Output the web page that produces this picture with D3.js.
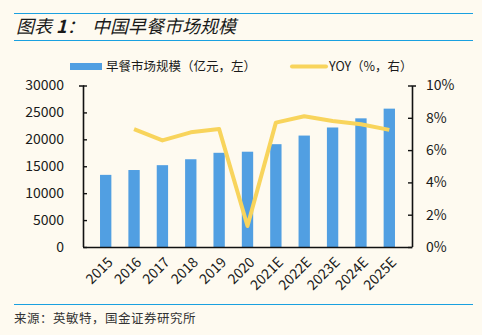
<!DOCTYPE html>
<html>
<head>
<meta charset="utf-8">
<script src="https://cdn.jsdelivr.net/npm/d3@7"></script>
<style>
  body { margin: 0; background: #fefaf0; }
  svg { display: block; }
  text { font-family: "Noto Sans CJK SC", "Noto Sans", sans-serif; fill: #1a1a1a; }
</style>
</head>
<body>
<div id="chart"></div>
<script>
// market size (100m yuan) and YoY growth (%)
const years = ["2015", "2016", "2017", "2018", "2019", "2020", "2021E", "2022E", "2023E", "2024E", "2025E"];
const marketSize = [13400, 14300, 15200, 16300, 17500, 17700, 19100, 20700, 22200, 23900, 25700];
const yoy = [null, 7.3, 6.6, 7.1, 7.3, 1.3, 7.7, 8.1, 7.8, 7.6, 7.25];
const leftTicks = [0, 5000, 10000, 15000, 20000, 25000, 30000];
const rightTicks = [0, 2, 4, 6, 8, 10];

const W = 482, H = 335;
const margin = {top: 85.5, right: 70, bottom: 88, left: 83};
const width = W - margin.left - margin.right,
    height = H - margin.top - margin.bottom;

const svg = d3.select("#chart")
  .append("svg")
    .attr("width", W)
    .attr("height", H);

svg.append("rect").attr("width", W).attr("height", H).attr("fill", "#fefaf0");

// header with rules above and below
svg.append("line").attr("x1", 14).attr("x2", 473).attr("y1", 13.5).attr("y2", 13.5)
  .attr("stroke", "#1aa0e0").attr("stroke-width", 1.2);
svg.append("line").attr("x1", 14).attr("x2", 473).attr("y1", 40.5).attr("y2", 40.5)
  .attr("stroke", "#1aa0e0").attr("stroke-width", 1.2);
const title = svg.append("text").attr("x", 16).attr("y", 33)
  .style("font-size", "18px").style("font-style", "italic");
title.append("tspan").text("图表 ");
title.append("tspan").text("1").style("font-weight", "bold");
title.append("tspan").text("：");
title.append("tspan").attr("x", 92).text("中国早餐市场规模");

// footer
svg.append("line").attr("x1", 14).attr("x2", 473).attr("y1", 304.5).attr("y2", 304.5)
  .attr("stroke", "#1aa0e0").attr("stroke-width", 1.2);
svg.append("text").attr("x", 14).attr("y", 323).text("来源：英敏特，国金证券研究所")
  .style("font-size", "12.5px").style("letter-spacing", "0.5px").style("fill", "#333");

const g = svg.append("g").attr("transform", `translate(${margin.left},${margin.top})`);

const x = d3.scaleBand().domain(years).range([0, width]).padding(0.6);
const y = d3.scaleLinear().domain([0, 30000]).range([height, 0]);
const y2 = d3.scaleLinear().domain([0, 10]).range([height, 0]);

// bars
g.append("g")
  .selectAll("rect")
  .data(years)
  .join("rect")
    .attr("x", d => x(d))
    .attr("y", (d, i) => y(marketSize[i]))
    .attr("width", x.bandwidth())
    .attr("height", (d, i) => height - y(marketSize[i]))
    .attr("fill", "#519fe2");

// yoy line
const line = d3.line()
  .defined(d => d[1] != null)
  .x(d => x(d[0]) + x.bandwidth() / 2)
  .y(d => y2(d[1]));
g.append("path")
  .datum(years.map((d, i) => [d, yoy[i]]))
  .attr("fill", "none")
  .attr("stroke", "#f8d45c")
  .attr("stroke-width", 4)
  .attr("stroke-linejoin", "round")
  .attr("d", line);

// axes
const leftAxis = g.append("g")
  .call(d3.axisLeft(y).tickValues(leftTicks).tickSize(-4).tickPadding(19).tickFormat(d3.format("d")));
const rightAxis = g.append("g")
  .attr("transform", `translate(${width},0)`)
  .call(d3.axisRight(y2).tickValues(rightTicks).tickSize(-4).tickPadding(14).tickFormat(d => d + "%"));
const bottomAxis = g.append("g")
  .attr("transform", `translate(0,${height})`)
  .call(d3.axisBottom(x).tickSize(0).tickSizeOuter(0));

[leftAxis, rightAxis, bottomAxis].forEach(a => {
  a.select(".domain").attr("stroke", "#111").attr("stroke-width", 1.6);
  a.selectAll(".tick line").attr("stroke", "#111").attr("stroke-width", 1.4);
  a.selectAll("text").style("font-size", "14px").style("font-family", "'Noto Sans CJK SC', sans-serif").attr("fill", "#1a1a1a");
});
leftAxis.select(".domain").attr("d", `M-4,0.5H0.5V${height}`);
rightAxis.select(".domain").attr("d", `M4,0.5H0.5V${height}`);

bottomAxis.selectAll("text")
  .attr("text-anchor", "end")
  .attr("dy", 0)
  .attr("transform", "translate(6,14) rotate(-45)");

// legend
const legend = svg.append("g").style("font-size", "12.5px");
legend.append("rect").attr("x", 70).attr("y", 63).attr("width", 32).attr("height", 7).attr("fill", "#519fe2");
legend.append("text").attr("x", 106).attr("y", 71).text("早餐市场规模（亿元，左）");
legend.append("line").attr("x1", 292).attr("x2", 326).attr("y1", 66.5).attr("y2", 66.5)
  .attr("stroke", "#f8d45c").attr("stroke-width", 4).attr("stroke-linecap", "round");
legend.append("text").attr("x", 329).attr("y", 71).text("YOY（%，右）");
</script>
</body>
</html>
